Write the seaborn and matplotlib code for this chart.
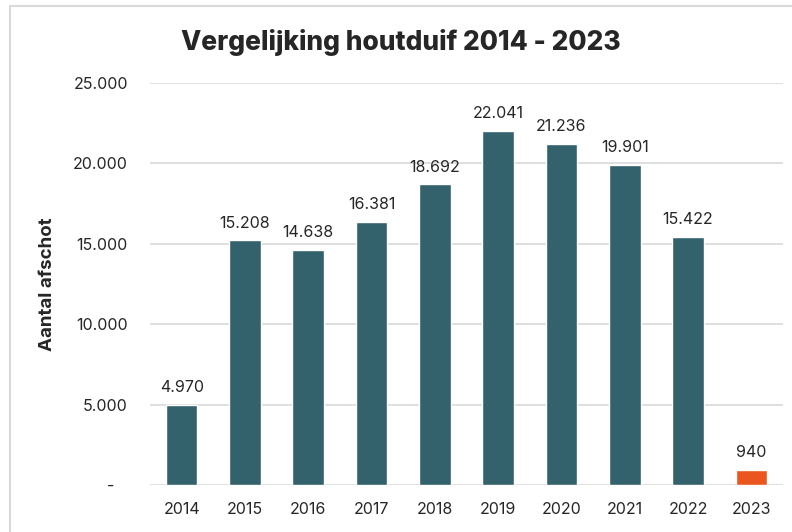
import matplotlib
matplotlib.use("Agg")
import matplotlib.pyplot as plt
import seaborn as sns
import pandas as pd
from matplotlib.lines import Line2D

years = ["2014", "2015", "2016", "2017", "2018", "2019", "2020", "2021", "2022", "2023"]
afschot = [4970, 15208, 14638, 16381, 18692, 22041, 21236, 19901, 15422, 940]
value_labels = ["4.970", "15.208", "14.638", "16.381", "18.692", "22.041",
                "21.236", "19.901", "15.422", "940"]
y_ticks = [0, 5000, 10000, 15000, 20000, 25000]
y_tick_labels = ["-   ", "5.000", "10.000", "15.000", "20.000", "25.000"]

teal = "#33626D"
orange = "#EA561E"
colors = [teal] * 9 + [orange]

df = pd.DataFrame({"jaar": years, "afschot": afschot})

sns.set_style("white")
plt.rcParams["font.family"] = ["Inter", "DejaVu Sans"]

fig = plt.figure(figsize=(7.92, 5.32), dpi=100)
ax = fig.add_axes([150 / 792, 1 - 485 / 532, 633 / 792, 402 / 532])

sns.barplot(data=df, x="jaar", y="afschot", hue="jaar", palette=colors,
            width=0.5, saturation=1, legend=False, ax=ax)

for container, lab in zip(ax.containers, value_labels):
    ax.bar_label(container, labels=[lab], padding=7, fontsize=11.5,
                 color="#262626")

ax.set_ylim(0, 25000)
ax.set_xlim(-0.5, 9.5)
ax.set_yticks(y_ticks)
ax.set_yticklabels(y_tick_labels)
ax.yaxis.grid(True, color="#d9d9d9", linewidth=1.2)
ax.set_axisbelow(True)
for s in ax.spines.values():
    s.set_visible(False)
ax.tick_params(axis="y", length=0, pad=16, labelsize=11.5, labelcolor="#262626")
ax.tick_params(axis="x", length=0, pad=12, labelsize=11.5, labelcolor="#262626")
ax.set_xlabel("")
ax.set_ylabel("Aantal afschot", fontsize=13.5, fontweight="bold", labelpad=12)

fig.text(401 / 792, 1 - 42 / 532, "Vergelijking houtduif 2014 - 2023",
         ha="center", va="center", fontsize=19, fontweight="heavy")

# light frame at top and left
fig.add_artist(Line2D([9.5 / 792, 1], [1 - 5.5 / 532, 1 - 5.5 / 532],
                      color="#d9d9d9", linewidth=1.5))
fig.add_artist(Line2D([9.5 / 792, 9.5 / 792], [0, 1 - 5.5 / 532],
                      color="#d9d9d9", linewidth=1.5))

fig.savefig("out.png", dpi=100)
